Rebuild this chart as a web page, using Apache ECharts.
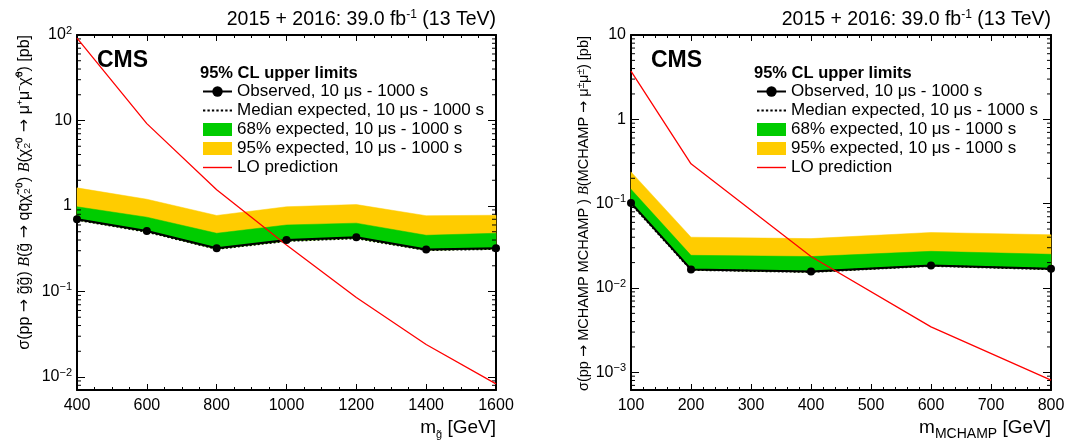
<!DOCTYPE html>
<html>
<head>
<meta charset="utf-8">
<title>CMS 95% CL upper limits</title>
<script src="https://cdn.jsdelivr.net/npm/echarts@6.0.0/dist/echarts.min.js"></script>
<style>
  html, body { margin: 0; padding: 0; background: #fff; }
  #chart { width: 1065px; height: 443px; }
</style>
</head>
<body>
<div id="chart"></div>
<script>
// 左图：gluino 质量 (GeV) 及各条曲线 (pb)
const massGluino = [400, 600, 800, 1000, 1200, 1400, 1600]
const obsGluino = [0.70, 0.51, 0.32, 0.40, 0.43, 0.31, 0.32]
const expGluino = [0.69, 0.50, 0.315, 0.39, 0.42, 0.305, 0.315]
const exp68Gluino = [0.98, 0.74, 0.48, 0.60, 0.63, 0.455, 0.48]
const exp95Gluino = [1.63, 1.20, 0.775, 0.98, 1.04, 0.77, 0.78]
const loGluino = [92, 9.2, 1.55, 0.35, 0.085, 0.024, 0.0083]

// 右图：MCHAMP 质量 (GeV)
const massMchamp = [100, 200, 400, 600, 800]
const obsMchamp = [0.102, 0.0166, 0.0157, 0.0185, 0.0169]
const expMchamp = [0.100, 0.0164, 0.0155, 0.0183, 0.0167]
const exp68Mchamp = [0.148, 0.0244, 0.0236, 0.0272, 0.0251]
const exp95Mchamp = [0.238, 0.0400, 0.0385, 0.0455, 0.0428]
const loMchamp = [3.73, 0.297, 0.0236, 0.00346, 0.00081]

// 坐标轴范围
const xRangeGluino = [400, 1600, 200]   // min, max, interval
const xRangeMchamp = [100, 800, 100]
const yRangeGluino = [0.00705, 100]
const yRangeMchamp = [0.000617, 10]

const legendNames = [
    'Observed, 10 μs - 1000 s',
    'Median expected, 10 μs - 1000 s',
    '68% expected, 10 μs - 1000 s',
    '95% expected, 10 μs - 1000 s',
    'LO prediction'
]

const FONT = '"Liberation Sans", Arial, Helvetica, sans-serif'
const GREEN = '#00cc00'
const YELLOW = '#ffcc00'
const RED = '#ff0000'

const chart = echarts.init(document.getElementById('chart'))

// log 轴次刻度 2..9 x 10^n
const logMinorTicks = (min, max) => {
    const out = []
    for (let d = Math.floor(Math.log10(min)); d <= Math.ceil(Math.log10(max)); d++) {
        for (let k = 2; k <= 9; k++) {
            const v = k * Math.pow(10, d)
            if (v > min && v < max) out.push(v)
        }
    }
    return out
}

// y 轴标签: 10^n
const logLabel = (v) => {
    const e = Math.log10(v)
    const r = Math.round(e)
    if (Math.abs(e - r) > 1e-6) return ''
    if (r === 0) return '1'
    if (r === 1) return '10'
    return '{b|10}{s|' + (r < 0 ? '\u2212' + (-r) : r) + '}'
}

const makeAxes = (gi, xr, yr, xMinorSplit) => {
    const frame = { show: true, lineStyle: { color: '#000', width: 2 } }
    const x = [0, 1].map(k => ({
        type: 'value', gridIndex: gi, position: k ? 'top' : 'bottom',
        min: xr[0], max: xr[1], interval: xr[2],
        axisLine: { ...frame, onZero: false },
        axisTick: { show: true, inside: true, length: 6, lineStyle: { color: '#000', width: 1 } },
        minorTick: { show: true, splitNumber: xMinorSplit, length: 3, lineStyle: { color: '#000', width: 1 } },
        axisLabel: { show: !k, margin: 8, fontSize: 16, fontFamily: FONT, color: '#000', formatter: (v) => String(v) },
        splitLine: { show: false }
    }))
    const y = [0, 1].map(k => ({
        type: 'log', logBase: 10, gridIndex: gi, position: k ? 'right' : 'left',
        min: yr[0], max: yr[1],
        axisLine: { ...frame, onZero: false },
        axisTick: { show: true, inside: true, length: 8, lineStyle: { color: '#000', width: 1 } },
        axisLabel: {
            show: !k, margin: 5, fontSize: 16, fontFamily: FONT, color: '#000',
            formatter: logLabel,
            rich: {
                b: { fontSize: 16, lineHeight: 20, fontFamily: FONT, color: '#000' },
                s: { fontSize: 11, lineHeight: 12, verticalAlign: 'top', fontFamily: FONT, color: '#000' }
            }
        },
        splitLine: { show: false },
        minorTick: { show: false }
    }))
    return { x, y }
}

// 误差带: 中位数到上限之间的多边形
const bandSeries = (gi, name, color, mass, lo, hi) => ({
    type: 'custom', name, xAxisIndex: gi * 2, yAxisIndex: gi * 2,
    silent: true, animation: false,
    itemStyle: { color },
    data: mass.map((m, i) => [m, lo[i], hi[i]]),
    renderItem: (params, api) => {
        if (params.dataIndex !== 0) return null
        const upper = [], lower = []
        for (let j = 0; j < mass.length; j++) {
            upper.push(api.coord([api.value(0, j), api.value(2, j)]))
            lower.push(api.coord([api.value(0, j), api.value(1, j)]))
        }
        return {
            type: 'polygon',
            shape: { points: upper.concat(lower.reverse()) },
            style: { fill: color, stroke: color, lineWidth: 0.5 }
        }
    }
})

const makeSeries = (gi, mass, obs, exp, e68, e95, lo, yr) => {
    const common = {
        type: 'line', xAxisIndex: gi * 2, yAxisIndex: gi * 2,
        symbol: 'none', silent: true, animation: false
    }
    const pts = (ys) => mass.map((m, i) => [m, ys[i]])
    return [
        bandSeries(gi, legendNames[3], YELLOW, mass, exp, e95),
        bandSeries(gi, legendNames[2], GREEN, mass, exp, e68),
        {
            ...common, name: legendNames[1], data: pts(exp),
            itemStyle: { color: '#000' }, lineStyle: { color: '#000', width: 2, type: [2, 2] }
        },
        {
            ...common, name: legendNames[0], data: pts(obs), symbol: 'circle', symbolSize: 8,
            itemStyle: { color: '#000' }, lineStyle: { color: '#000', width: 2 }
        },
        {
            ...common, name: legendNames[4], data: pts(lo),
            itemStyle: { color: RED }, lineStyle: { color: RED, width: 1.3 }
        },
        // y 轴 2..9 次刻度（左右两侧）
        {
            type: 'custom', xAxisIndex: gi * 2, yAxisIndex: gi * 2, silent: true, animation: false,
            data: logMinorTicks(yr[0], yr[1]).map(v => [mass[0], v]),
            renderItem: (params, api) => {
                const y = api.coord([api.value(0), api.value(1)])[1]
                const cs = params.coordSys
                const st = { stroke: '#000', lineWidth: 1 }
                return {
                    type: 'group', children: [
                        { type: 'line', shape: { x1: cs.x, y1: y, x2: cs.x + 4, y2: y }, style: st },
                        { type: 'line', shape: { x1: cs.x + cs.width, y1: y, x2: cs.x + cs.width - 4, y2: y }, style: st }
                    ]
                }
            }
        }
    ]
}

const axL = makeAxes(0, xRangeGluino, yRangeGluino, 4)
const axR = makeAxes(1, xRangeMchamp, yRangeMchamp, 5)

const plotShift = 554 // 右图相对左图的水平偏移

const txt = (x, y, text, opt) => ({
    type: 'text', x, y, z: 100, silent: true,
    style: { text, fontFamily: FONT, fill: '#000', ...opt }
})
const richBase = (size) => ({
    t: { fontSize: size, fontFamily: FONT, color: '#000' },
    ar: { fontSize: size, fontFamily: '"DejaVu Sans", sans-serif', color: '#000' }, // 箭头
    i: { fontSize: size, fontFamily: '"Liberation Serif", serif', fontStyle: 'italic', color: '#000' },
    sup: { fontSize: Math.round(size * 0.65), lineHeight: 10, verticalAlign: 'top', fontFamily: FONT, color: '#000' },
    sub: { fontSize: Math.round(size * 0.65), lineHeight: 10, verticalAlign: 'bottom', fontFamily: FONT, color: '#000' }
})

// 图例图标: 细线 / 点线（路径外框保持 29x13）
const lineIcon = 'path://M0,0L0,0M0,5.8L29,5.8L29,7.2L0,7.2ZM29,13L29,13'
let dotPath = 'path://M0,0L0,0'
for (let px = 0; px < 29; px += 4.6) dotPath += 'M' + px + ',5.5h2.4v2h-2.4z'
dotPath += 'M29,13L29,13'

const graphics = []
;[0, 1].forEach(gi => {
    const dx = gi * plotShift
    const right = gi ? 1051 : 496
    graphics.push(txt(right, 20, '{t|2015 + 2016: 39.0 fb}{sup|-1}{t| (13 TeV)}', {
        align: 'right', verticalAlign: 'middle',
        rich: { ...richBase(19.5), sup: { fontSize: 12, lineHeight: 22, verticalAlign: 'top', fontFamily: FONT } }
    }))
    graphics.push(txt(97 + dx, 61, 'CMS', { fontSize: 23, fontWeight: 'bold', verticalAlign: 'middle' }))
    graphics.push(txt(200 + dx, 73, '95% CL upper limits', { fontSize: 16.5, fontWeight: 'bold', verticalAlign: 'middle' }))
})
// x 轴标题
graphics.push(txt(496, 428, '{t|m}{sub|g̃}{t| [GeV]}', {
    align: 'right', verticalAlign: 'middle',
    rich: { ...richBase(19), sub: { fontSize: 11, lineHeight: 24, verticalAlign: 'bottom', fontFamily: FONT } }
}))
graphics.push(txt(1051, 428, '{t|m}{sub|MCHAMP}{t| [GeV]}', {
    align: 'right', verticalAlign: 'middle',
    rich: { ...richBase(19), sub: { fontSize: 14, lineHeight: 26, verticalAlign: 'bottom', fontFamily: FONT } }
}))
// y 轴标题（旋转 90°）
graphics.push({
    ...txt(25, 35, '{t|σ(pp }{ar|→}{t| g̃g̃) }{i|B}{t|(g̃ }{ar|→}{t| qq̄χ̃₂⁰) }{i|B}{t|(χ̃₂⁰ }{ar|→}{t| μ⁺μ⁻χ̃⁰) [pb]}', {
        align: 'right', verticalAlign: 'middle', rich: richBase(16)
    }),
    rotation: Math.PI / 2
})
graphics.push({
    ...txt(584, 36, '{t|σ(pp }{ar|→}{t| MCHAMP MCHAMP ) }{i|B}{t|(MCHAMP }{ar|→}{t| μ}{sup|±}{t|μ}{sup|±}{t|) [pb]}', {
        align: 'right', verticalAlign: 'middle',
        rich: { ...richBase(14.5), sup: { fontSize: 10, lineHeight: 12, verticalAlign: 'top', fontFamily: FONT } }
    }),
    rotation: Math.PI / 2
})

const option = {
    animation: false,
    backgroundColor: '#fff',
    grid: [
        { left: 77, right: 1065 - 496, top: 35, bottom: 53, outerBoundsMode: 'none' },
        { left: 631, right: 1065 - 1051, top: 35, bottom: 53, outerBoundsMode: 'none' }
    ],
    xAxis: [...axL.x, ...axR.x],
    yAxis: [...axL.y, ...axR.y],
    legend: [0, 1].map(gi => ({
        data: [
            { name: legendNames[0] },
            { name: legendNames[1], icon: dotPath },
            { name: legendNames[2], icon: 'rect' },
            { name: legendNames[3], icon: 'rect' },
            { name: legendNames[4], icon: lineIcon }
        ],
        orient: 'vertical',
        left: 202 + gi * plotShift,
        top: 82,
        padding: 0,
        itemWidth: 29,
        itemHeight: 13,
        itemGap: 0,
        selectedMode: false,
        textStyle: { fontSize: 17, lineHeight: 19, fontFamily: FONT, color: '#000' }
    })),
    series: [
        ...makeSeries(0, massGluino, obsGluino, expGluino, exp68Gluino, exp95Gluino, loGluino, yRangeGluino),
        ...makeSeries(1, massMchamp, obsMchamp, expMchamp, exp68Mchamp, exp95Mchamp, loMchamp, yRangeMchamp)
    ],
    graphic: graphics
}
chart.setOption(option)
</script>
</body>
</html>
